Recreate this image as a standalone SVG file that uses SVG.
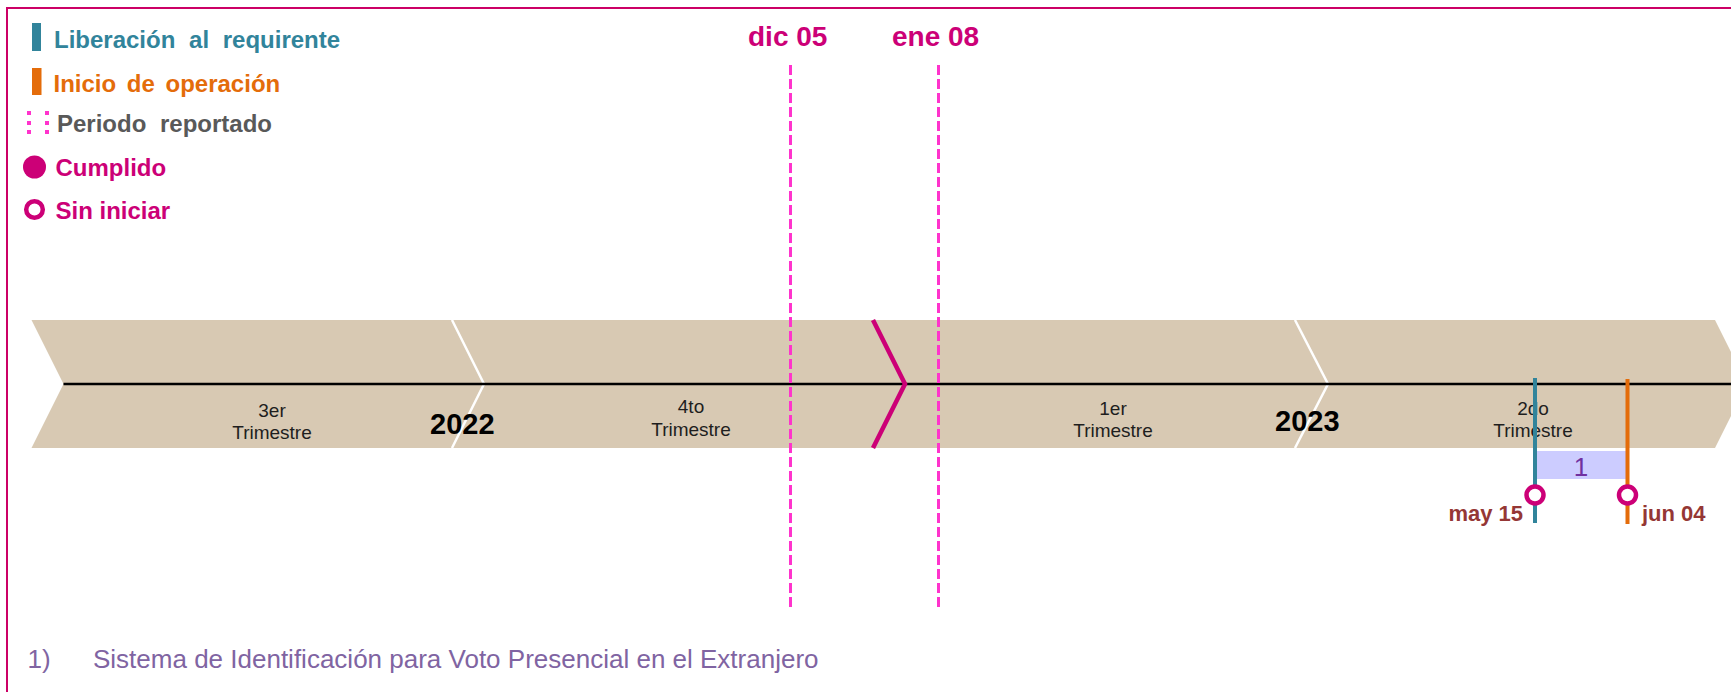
<svg xmlns="http://www.w3.org/2000/svg" width="1731" height="692" viewBox="0 0 1731 692">
<style>
.lg{font-family:"Liberation Sans",Arial,sans-serif;font-weight:bold;font-size:24px;word-spacing:7px}
.q{font-family:"Liberation Sans",Arial,sans-serif;font-size:19px;fill:#1e1e1e;text-anchor:middle}
.yr{font-family:"Liberation Sans",Arial,sans-serif;font-weight:bold;font-size:29px;fill:#000}
.dt{font-family:"Liberation Sans",Arial,sans-serif;font-weight:bold;font-size:28px;fill:#CC0077}
.md{font-family:"Liberation Sans",Arial,sans-serif;font-weight:bold;font-size:22px;fill:#953735}
.sep{fill:none;stroke:#fff;stroke-width:2.5}
.dash{stroke:#FF33CC;stroke-width:3;stroke-dasharray:10 4;fill:none}
.ring{fill:#fff;stroke:#CC0077;stroke-width:4.5}
</style>
<rect width="1731" height="692" fill="#fff"/>
<rect x="7" y="8" width="1740" height="700" fill="none" stroke="#CC0066" stroke-width="2"/>
<g id="legend">
  <rect x="32" y="23" width="9" height="28" fill="#31849B"/>
  <text class="lg" x="54" y="48" fill="#31849B">Liberación al requirente</text>
  <rect x="32" y="68" width="9.5" height="27" fill="#E46C0A"/>
  <text class="lg" x="53.5" y="92" fill="#E46C0A" style="word-spacing:4px">Inicio de operación</text>
  <g fill="#FF33CC">
    <rect x="27" y="111" width="4" height="4"/><rect x="27" y="121" width="4" height="4"/><rect x="27" y="130" width="4" height="4"/>
    <rect x="45" y="111" width="4" height="4"/><rect x="45" y="121" width="4" height="4"/><rect x="45" y="130" width="4" height="4"/>
  </g>
  <text class="lg" x="57" y="132" fill="#595959">Periodo reportado</text>
  <circle cx="34.5" cy="167" r="11.5" fill="#CC0077"/>
  <text class="lg" x="55.5" y="176" fill="#CC0077">Cumplido</text>
  <circle cx="34.5" cy="209.5" r="8.3" fill="#fff" stroke="#CC0077" stroke-width="4.5"/>
  <text class="lg" x="55.5" y="219" fill="#CC0077" style="word-spacing:0">Sin iniciar</text>
</g>
<g id="band">
  <polygon points="31.5,320 1715,320 1747,384 1715,448 31.5,448 63.5,384" fill="#D8C9B3"/>
  <polyline class="sep" points="452,320 484,384 452,448"/>
  <polyline class="sep" points="1295,320 1328,384 1295,448"/>
</g>
<g id="q3"><text class="q" x="272" y="417">3er</text><text class="q" x="272" y="439">Trimestre</text></g>
<g id="q4"><text class="q" x="691" y="413">4to</text><text class="q" x="691" y="436">Trimestre</text></g>
<g id="q1"><text class="q" x="1113" y="415">1er</text><text class="q" x="1113" y="437">Trimestre</text></g>
<g id="q2"><text class="q" x="1533" y="415">2do</text><text class="q" x="1533" y="437">Trimestre</text></g>
<text class="yr" x="430" y="434">2022</text>
<text class="yr" x="1275" y="431">2023</text>
<g id="connectors">
  <line x1="63.5" y1="384" x2="1731" y2="384" stroke="#000" stroke-width="2.5"/>
  <polyline points="873,320 905,384 873,448" fill="none" stroke="#CC0077" stroke-width="4.5"/>
  <line class="dash" x1="790.5" y1="65" x2="790.5" y2="608"/>
  <line class="dash" x1="938.5" y1="65" x2="938.5" y2="608"/>
</g>
<text class="dt" x="748" y="46">dic 05</text>
<text class="dt" x="892" y="46">ene 08</text>
<g id="item1">
  <rect x="1537" y="451" width="89" height="28" fill="#CCCCFF"/>
  <text x="1581" y="476" font-family="Liberation Sans, Arial, sans-serif" font-size="26" fill="#7030A0" text-anchor="middle">1</text>
  <line x1="1535" y1="378" x2="1535" y2="523" stroke="#31849B" stroke-width="4"/>
  <line x1="1627.5" y1="379" x2="1627.5" y2="524" stroke="#E46C0A" stroke-width="4"/>
  <circle class="ring" cx="1535" cy="495" r="8.5"/>
  <circle class="ring" cx="1627.5" cy="495" r="8.5"/>
  <text class="md" x="1523" y="521" text-anchor="end">may 15</text>
  <text class="md" x="1642" y="521">jun 04</text>
</g>
<g id="footnote" font-family="Liberation Sans, Arial, sans-serif" font-size="26" fill="#8064A2">
  <text x="27.5" y="668">1)</text>
  <text x="93" y="668">Sistema de Identificación para Voto Presencial en el Extranjero</text>
</g>
</svg>
